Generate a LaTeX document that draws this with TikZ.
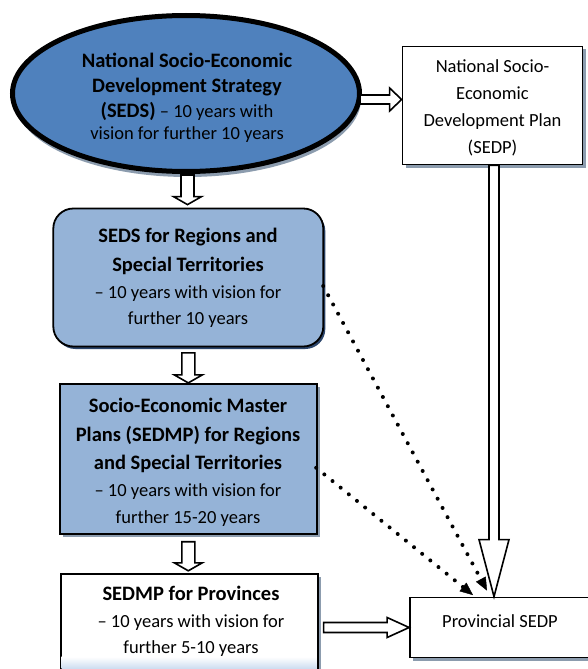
\documentclass[tikz,border=0pt]{standalone}
\usepackage{fontspec}
\setmainfont{Carlito}
\usetikzlibrary{shapes.geometric,calc,arrows.meta,shadows}

\definecolor{strat}{RGB}{79,129,189}
\definecolor{pale}{RGB}{149,179,215}
\definecolor{shadegray}{RGB}{140,156,174}
\definecolor{shadenavy}{RGB}{44,70,108}
\definecolor{glow}{RGB}{197,215,238}

% heading lines are set a little larger and bold
\newcommand{\hd}[1]{{\fontsize{20.5}{20.5}\selectfont\bfseries #1}}

\tikzset{
  txt/.style={font=\fontsize{18.5}{26.5}\selectfont, align=center, text=black, inner sep=0pt},
  grayshadow/.style={drop shadow={shadow xshift=3pt, shadow yshift=-3pt, fill=shadegray, opacity=1}},
  plainbox/.style={rectangle, draw=black, line width=1.8pt, fill=white, grayshadow},
  palebox/.style={rectangle, draw=black, line width=1.8pt, fill=pale, grayshadow},
  roundbox/.style={rectangle, rounded corners=20pt, draw=black, line width=1.8pt, fill=pale,
    drop shadow={shadow xshift=2pt, shadow yshift=-2.5pt, fill=shadenavy, opacity=1}},
  stratshape/.style={ellipse, draw=black, line width=5pt, fill=strat,
    drop shadow={shadow xshift=1.5pt, shadow yshift=-5.5pt, fill=shadegray, opacity=1}},
  % hollow block arrow: shaft half width, head half width, head length
  blockarrow/.style n args={3}{draw=black, line width=1.6pt, fill=white, line join=miter,
    to path={let \p1=($(\tikztotarget)!#3!(\tikztostart)$) in
      ($(\tikztostart)!#1!90:(\tikztotarget)$) --
      ($(\p1)!#1!90:(\tikztotarget)$) --
      ($(\p1)!#2!90:(\tikztotarget)$) --
      (\tikztotarget) --
      ($(\p1)!#2!-90:(\tikztotarget)$) --
      ($(\p1)!#1!-90:(\tikztotarget)$) --
      ($(\tikztostart)!#1!-90:(\tikztotarget)$) -- cycle}},
  dotlink/.style={line width=4pt, line cap=round, dash pattern=on 0pt off 10.5pt,
    -{Triangle[length=13pt,width=11pt,line width=0.4pt]}}
}

\begin{document}
\begin{tikzpicture}[x=1pt, y=-1pt]
  \fill[white] (0,0) rectangle (587,669);
  \useasboundingbox (0,0) rectangle (587,669);

  % national strategy
  \node[stratshape, minimum width=347pt, minimum height=156pt, inner sep=0pt] (ell) at (186,93.5) {};
  \node[txt, font=\fontsize{18.5}{24}\selectfont] (elltext) at (187,98) {\hd{National Socio-Economic}\\[1pt]
    \hd{Development Strategy}\\[1pt]
    \hd{(SEDS)} – 10 years with\\[-2pt]
    vision for further 10 years};

  % national plan
  \node[plainbox, minimum width=180pt, minimum height=118pt] (sedp) at (492.5,105.5) {};
  \node[txt, font=\fontsize{18.5}{27}\selectfont] (sedptext) at (492.5,108) {National Socio-\\ Economic\\ Development Plan\\ (SEDP)};

  % regional strategy
  \node[roundbox, minimum width=270pt, minimum height=138pt] (regs) at (188.3,277.5) {};
  \node[txt, font=\fontsize{18.5}{26.5}\selectfont] (regstext) at (188,278) {\hd{SEDS for Regions and}\\[2.5pt]
    \hd{Special Territories}\\
    – 10 years with vision for\\
    further 10 years};

  % regional master plans
  \node[palebox, minimum width=257pt, minimum height=150pt] (master) at (188.3,459.3) {};
  \node[txt, font=\fontsize{18.5}{27.2}\selectfont] (mastertext) at (188,462.5) {\hd{Socio-Economic Master}\\[1.5pt]
    \hd{Plans (SEDMP) for Regions}\\[1pt]
    \hd{and Special Territories}\\
    – 10 years with vision for\\
    further 15-20 years};

  % provincial master plan
  \node[plainbox, drop shadow={opacity=0}, minimum width=257pt, minimum height=130pt, anchor=north] (provs) at (189.2,572.8) {};
  \shade[top color=white, bottom color=glow] ($(provs.north west)+(1.8,84)$) rectangle ($(provs.north east)+(-1.8,97.5)$);
  \node[txt, font=\fontsize{18.5}{26.5}\selectfont] (provstext) at (191,621.5) {\hd{SEDMP for Provinces}\\
    – 10 years with vision for\\
    further 5-10 years};

  % provincial plan
  \node[plainbox, minimum width=180pt, minimum height=60pt] (prov) at (500,627.5) {};
  \node[txt] (provtext) at (500,621) {Provincial SEDP};

  % hollow block arrows
  \coordinate (d1s) at ($(ell.south)+(1.5,1)$);
  \coordinate (d1e) at ($(d1s |- regs.north)+(0,-3)$);
  \draw[blockarrow={6.5pt}{14pt}{8pt}] (d1s) to (d1e);

  \coordinate (d2s) at ($(regs.south)+(0,5.5)$);
  \coordinate (d2e) at ($(d2s |- master.north)+(0,-0.5)$);
  \draw[blockarrow={6.5pt}{14pt}{8pt}] (d2s) to (d2e);

  \coordinate (d3s) at ($(master.south)+(0,6.5)$);
  \coordinate (d3e) at ($(d3s |- provs.north)+(0,-2)$);
  \draw[blockarrow={6.5pt}{14pt}{8pt}] (d3s) to (d3e);

  \coordinate (r1s) at ($(ell.east)+(-2,6)$);
  \coordinate (r1e) at (r1s -| sedp.west);
  \draw[blockarrow={4.5pt}{11.5pt}{12pt}] (r1s) to (r1e);

  \coordinate (ls) at ($(sedp.south)+(1.5,0)$);
  \coordinate (le) at (ls |- prov.north);
  \draw[blockarrow={5pt}{15pt}{57pt}] (ls) to (le);

  \coordinate (r2s) at ($(provs.east |- prov.west)+(5,0)$);
  \draw[blockarrow={5pt}{10pt}{22pt}] (r2s) to (prov.west);

  % dotted links
  \coordinate (ds1) at ($(regs.east)+(-1,8.5)$);
  \coordinate (de1) at ($(prov.north)+(-13,-6)$);
  \draw[dotlink] (ds1) -- (de1);

  \coordinate (ds2) at ($(master.east)+(-1.5,8.5)$);
  \coordinate (de2) at ($(prov.north)+(-27,-1.5)$);
  \draw[dotlink] (ds2) -- (de2);
\end{tikzpicture}
\end{document}
